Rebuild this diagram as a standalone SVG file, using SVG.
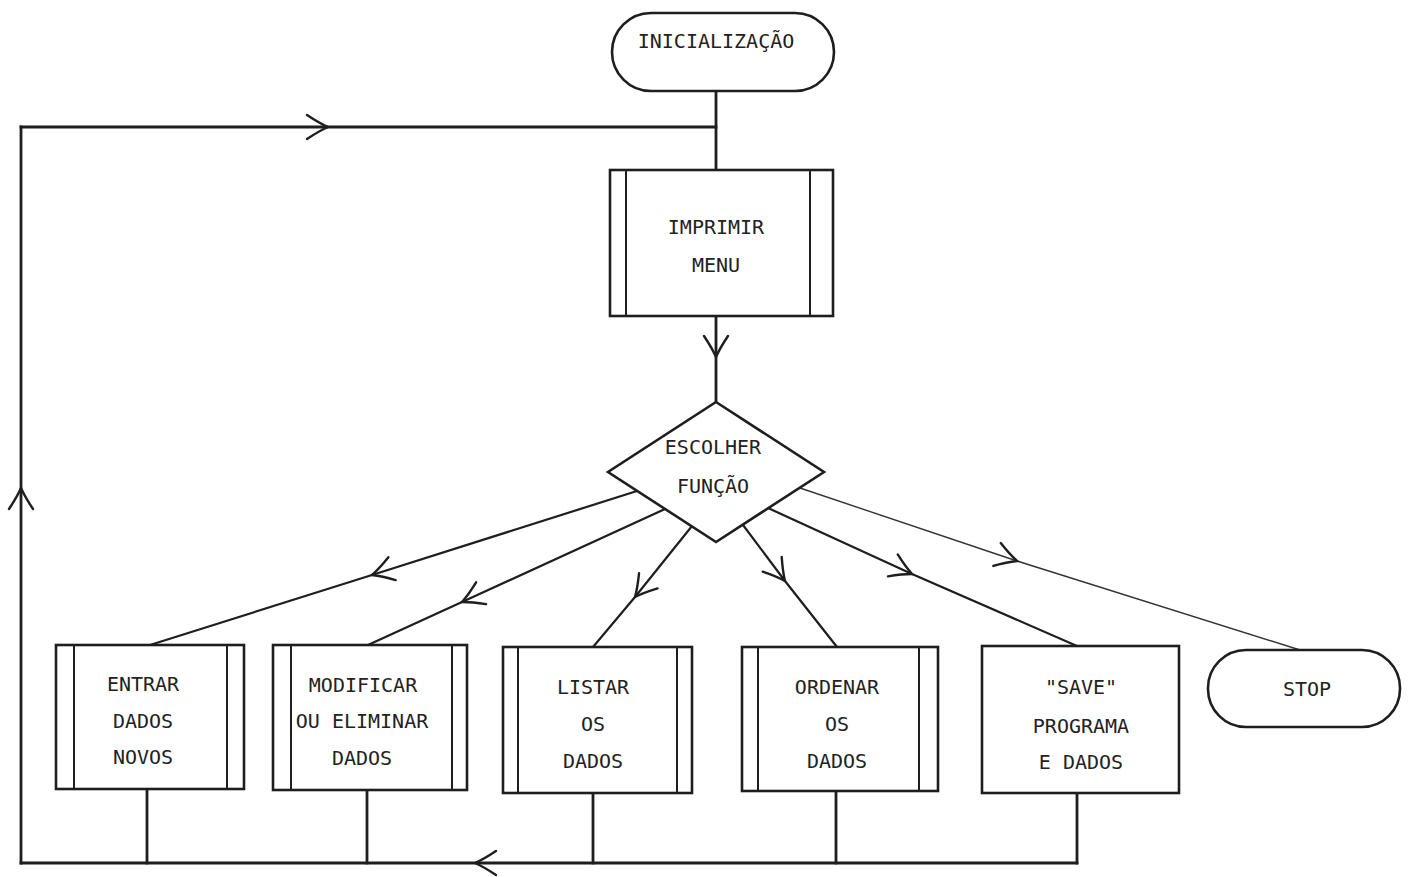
<svg xmlns="http://www.w3.org/2000/svg" width="1408" height="877" viewBox="0 0 1408 877">
<style>
.bg{fill:#ffffff}
.shape{fill:#ffffff;stroke:#1e1e1e;stroke-width:2.6}
.inner{stroke:#1e1e1e;stroke-width:2;fill:none}
.lbl{font-family:"DejaVu Sans Mono","Liberation Mono",monospace;font-size:20px;fill:#222;text-anchor:middle}
.wire{fill:none;stroke:#1e1e1e;stroke-width:2.8;stroke-linecap:square}
.diag{fill:none;stroke:#1e1e1e;stroke-width:2.2;marker-mid:url(#chev)}
.thin{fill:none;stroke:#333;stroke-width:1.4;marker-mid:url(#chev)}
.arr{marker-mid:url(#chev)}
</style>
<defs>
<marker id="chev" markerUnits="userSpaceOnUse" markerWidth="30" markerHeight="30" viewBox="-25 -15 30 30" refX="0" refY="0" orient="auto" overflow="visible">
<path d="M-21,-12 Q-9,-4 0,0 Q-9,4 -21,12" fill="none" stroke="#1e1e1e" stroke-width="2.4" stroke-linecap="round"/>
</marker>
</defs>
<rect class="bg" x="0" y="0" width="1408" height="877"/>
<g id="connectors">
<path class="wire" d="M716,91 V170"/>
<path class="wire arr" d="M21,127 L328,127 L716,127"/>
<path class="wire arr" d="M21,863 L21,488 L21,127"/>
<path class="wire arr" d="M1077,863 L475,863 L21,863"/>
<path class="wire arr" d="M716,316 L716,357 L716,402"/>
<path class="wire" d="M147,789 V863"/>
<path class="wire" d="M367,790 V863"/>
<path class="wire" d="M593,793 V863"/>
<path class="wire" d="M836,791 V863"/>
<path class="wire" d="M1077,793 V863"/>
<path class="diag" d="M637,491 L372,575 L150,645"/>
<path class="diag" d="M665,509 L462,602 L368,645"/>
<path class="diag" d="M692,526 L635,597 L593,647"/>
<path class="diag" d="M743,525 L785,581 L837,647"/>
<path class="diag" d="M768,508 L912,574 L1077,646"/>
<path class="thin" d="M800,488 L1017,561 L1300,650"/>
</g>
<g id="inicializacao">
<rect class="shape" x="612" y="13" width="222" height="78" rx="39" ry="39"/>
<text class="lbl" x="716" y="48">INICIALIZAÇÃO</text>
</g>
<g id="imprimir-menu">
<rect class="shape" x="610" y="170" width="223" height="146"/>
<line class="inner" x1="626" y1="170" x2="626" y2="316"/>
<line class="inner" x1="810" y1="170" x2="810" y2="316"/>
<text class="lbl" x="716" y="234">IMPRIMIR</text>
<text class="lbl" x="716" y="272">MENU</text>
</g>
<g id="escolher-funcao">
<polygon class="shape" points="716,402 824,472 716,542 608,472"/>
<text class="lbl" x="713" y="454">ESCOLHER</text>
<text class="lbl" x="713" y="493">FUNÇÃO</text>
</g>
<g id="entrar-dados">
<rect class="shape" x="56" y="645" width="188" height="144"/>
<line class="inner" x1="74" y1="645" x2="74" y2="789"/>
<line class="inner" x1="227" y1="645" x2="227" y2="789"/>
<text class="lbl" x="143" y="691">ENTRAR</text>
<text class="lbl" x="143" y="728">DADOS</text>
<text class="lbl" x="143" y="764">NOVOS</text>
</g>
<g id="modificar">
<rect class="shape" x="273" y="645" width="194" height="145"/>
<line class="inner" x1="291" y1="645" x2="291" y2="790"/>
<line class="inner" x1="452" y1="645" x2="452" y2="790"/>
<text class="lbl" x="363" y="692">MODIFICAR</text>
<text class="lbl" x="362" y="728">OU ELIMINAR</text>
<text class="lbl" x="362" y="765">DADOS</text>
</g>
<g id="listar">
<rect class="shape" x="503" y="647" width="189" height="146"/>
<line class="inner" x1="518" y1="647" x2="518" y2="793"/>
<line class="inner" x1="677" y1="647" x2="677" y2="793"/>
<text class="lbl" x="593" y="694">LISTAR</text>
<text class="lbl" x="593" y="731">OS</text>
<text class="lbl" x="593" y="768">DADOS</text>
</g>
<g id="ordenar">
<rect class="shape" x="742" y="647" width="196" height="144"/>
<line class="inner" x1="758" y1="647" x2="758" y2="791"/>
<line class="inner" x1="919" y1="647" x2="919" y2="791"/>
<text class="lbl" x="837" y="694">ORDENAR</text>
<text class="lbl" x="837" y="731">OS</text>
<text class="lbl" x="837" y="768">DADOS</text>
</g>
<g id="save">
<rect class="shape" x="982" y="646" width="197" height="147"/>
<text class="lbl" x="1081" y="694">"SAVE"</text>
<text class="lbl" x="1081" y="733">PROGRAMA</text>
<text class="lbl" x="1081" y="769">E DADOS</text>
</g>
<g id="stop">
<rect class="shape" x="1208" y="650" width="192" height="77" rx="38" ry="38"/>
<text class="lbl" x="1307" y="696">STOP</text>
</g>
</svg>
